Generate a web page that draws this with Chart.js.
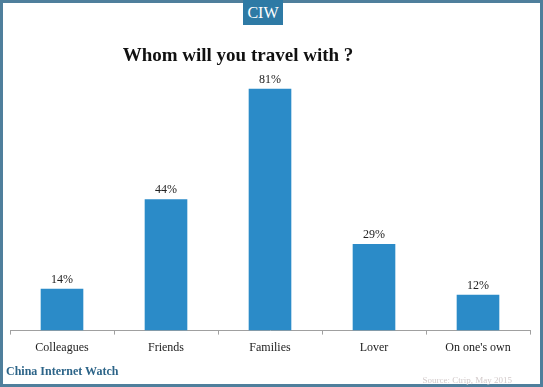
<!DOCTYPE html>
<html>
<head>
<meta charset="utf-8">
<script src="https://cdn.jsdelivr.net/npm/chart.js@4/dist/chart.umd.min.js"></script>
<style>
  body { margin: 0; background: #fff; }
  #wrap { position: relative; width: 543px; height: 387px; overflow: hidden; }
  #frame { position: absolute; left: 0; top: 0; width: 537px; height: 381px; border: 3px solid #4f7f9c; box-sizing: content-box; }
  #myChart { position: absolute; left: 0; top: 0; }
  #badge { position: absolute; left: 243px; top: 0; width: 40px; height: 25px; background: #2e7aa5; color: #fff;
    font: 16px "Liberation Serif", serif; text-align: center; line-height: 25px; }
  #title { position: absolute; left: 38px; width: 400px; top: 44px; text-align: center;
    font: bold 19px "Liberation Serif", serif; color: #111; }
  #brand { position: absolute; left: 6px; top: 364px; font: bold 12px "Liberation Serif", serif; color: #2c6488; }
  #source { position: absolute; right: 31px; top: 375px; font: 9px "Liberation Serif", serif; color: #d2caca; }
</style>
</head>
<body>
<div id="wrap">
  <canvas id="myChart" width="543" height="387"></canvas>
  <div id="frame"></div>
  <div id="badge">CIW</div>
  <div id="title">Whom will you travel with ?</div>
  <div id="brand">China Internet Watch</div>
  <div id="source">Source: Ctrip, May 2015</div>
</div>
<script>
const categories = ['Colleagues', 'Friends', 'Families', 'Lover', "On one's own"];
const shares = [14, 44, 81, 29, 12];

// write "NN%" above each bar
const valueLabels = {
    id: 'valueLabels',
    afterDatasetsDraw(chart) {
        const ctx = chart.ctx;
        const meta = chart.getDatasetMeta(0);
        ctx.save();
        ctx.font = '12px "Liberation Serif", serif';
        ctx.fillStyle = '#222';
        ctx.textAlign = 'center';
        ctx.textBaseline = 'bottom';
        meta.data.forEach((bar, i) => {
            ctx.fillText(shares[i] + '%', bar.x, bar.y - 3);
        });
        ctx.restore();
    }
};

const ctx = document.getElementById('myChart').getContext('2d');
const myChart = new Chart(ctx, {
    type: 'bar',
    data: {
        labels: categories,
        datasets: [{
            data: shares,
            backgroundColor: '#2b8bc8',
            barPercentage: 0.41,
            categoryPercentage: 1
        }]
    },
    options: {
        responsive: false,
        animation: false,
        layout: { padding: { left: 10, right: 13, top: 62, bottom: 26 } },
        plugins: {
            legend: { display: false },
            tooltip: { enabled: false }
        },
        scales: {
            x: {
                offset: true,
                grid: { display: true, drawOnChartArea: false, tickLength: 4, color: '#a0a0a0', offset: true },
                border: { display: true, color: '#a0a0a0' },
                ticks: { color: '#222', font: { family: '"Liberation Serif", serif', size: 12 }, padding: 6 }
            },
            y: {
                display: false,
                min: 0,
                max: 90
            }
        }
    },
    plugins: [valueLabels]
});
</script>
</body>
</html>
